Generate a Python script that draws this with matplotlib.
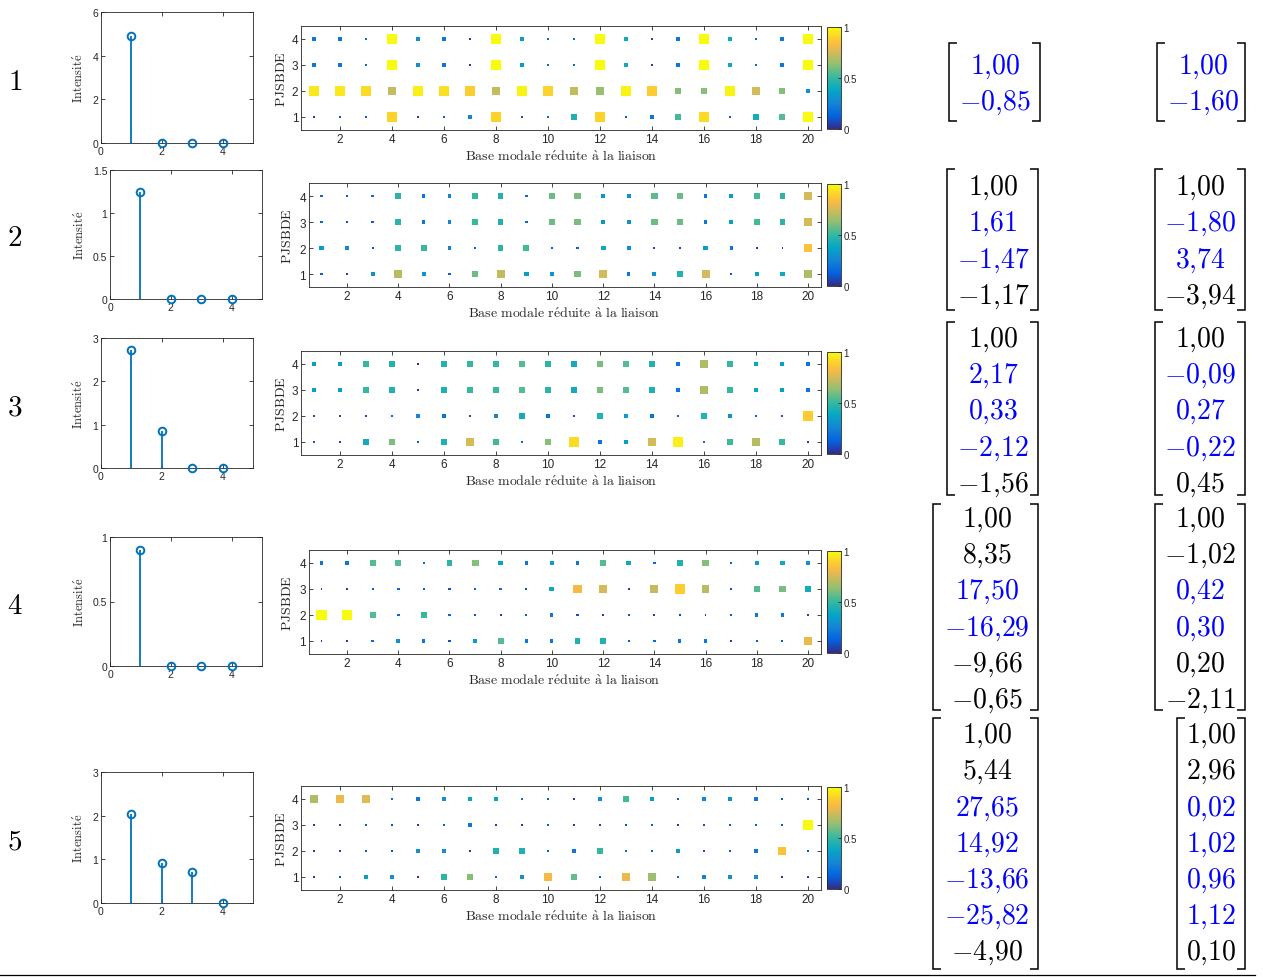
import numpy as np
import matplotlib
matplotlib.use('Agg')
import matplotlib.pyplot as plt
from matplotlib.colors import LinearSegmentedColormap

plt.rcParams['mathtext.fontset'] = 'cm'
plt.rcParams['font.family'] = ['Liberation Sans', 'DejaVu Sans']

W, H, DPI = 1263, 978, 100

# ---------------- data ----------------
row_labels = ['1', '2', '3', '4', '5']
stem_x = [1, 2, 3, 4]
stem_1 = [4.88, 0, 0, 0]
stem_2 = [1.24, 0, 0, 0]
stem_3 = [2.72, 0.85, 0, 0]
stem_4 = [0.90, 0, 0, 0]
stem_5 = [2.04, 0.92, 0.70, 0]
stem_yticks_1 = [0, 2, 4, 6]
stem_yticks_2 = [0, 0.5, 1, 1.5]
stem_yticks_3 = [0, 1, 2, 3]
stem_yticks_4 = [0, 0.5, 1]
stem_yticks_5 = [0, 1, 2, 3]

modes = list(range(1, 21))
ddl = [1, 2, 3, 4]
# rows: PJSBDE = 1, 2, 3, 4 ; columns: modes 1..20
mac_1 = [
    [0.05, 0.08, 0.12, 0.90, 0.05, 0.10, 0.25, 0.90, 0.08, 0.15, 0.45, 0.90, 0.10, 0.20, 0.52, 0.92, 0.10, 0.42, 0.55, 1.00],
    [0.95, 0.95, 0.92, 0.72, 0.97, 0.93, 0.88, 0.72, 0.98, 0.90, 0.72, 0.65, 0.98, 0.88, 0.62, 0.62, 0.98, 0.75, 0.62, 0.30],
    [0.20, 0.20, 0.15, 1.00, 0.30, 0.20, 0.05, 1.00, 0.35, 0.15, 0.15, 1.00, 0.40, 0.05, 0.20, 1.00, 0.40, 0.15, 0.20, 1.00],
    [0.20, 0.20, 0.15, 1.00, 0.30, 0.20, 0.05, 1.00, 0.35, 0.15, 0.15, 1.00, 0.40, 0.05, 0.20, 1.00, 0.40, 0.15, 0.20, 1.00],
]
mac_2 = [
    [0.12, 0.05, 0.30, 0.70, 0.30, 0.12, 0.58, 0.72, 0.35, 0.30, 0.60, 0.75, 0.20, 0.30, 0.45, 0.75, 0.10, 0.35, 0.40, 0.68],
    [0.35, 0.25, 0.10, 0.48, 0.50, 0.25, 0.12, 0.48, 0.52, 0.12, 0.12, 0.40, 0.30, 0.05, 0.08, 0.35, 0.20, 0.05, 0.05, 0.85],
    [0.15, 0.08, 0.12, 0.48, 0.20, 0.25, 0.50, 0.45, 0.15, 0.58, 0.60, 0.32, 0.30, 0.58, 0.58, 0.20, 0.35, 0.52, 0.48, 0.75],
    [0.15, 0.10, 0.15, 0.48, 0.20, 0.25, 0.50, 0.45, 0.15, 0.58, 0.60, 0.32, 0.30, 0.56, 0.58, 0.20, 0.35, 0.52, 0.48, 0.75],
]
mac_3 = [
    [0.10, 0.05, 0.42, 0.60, 0.12, 0.45, 0.75, 0.52, 0.15, 0.62, 0.92, 0.20, 0.35, 0.75, 0.97, 0.15, 0.52, 0.70, 0.50, 0.05],
    [0.05, 0.05, 0.05, 0.15, 0.25, 0.20, 0.05, 0.25, 0.42, 0.20, 0.08, 0.45, 0.35, 0.20, 0.15, 0.45, 0.30, 0.15, 0.10, 0.88],
    [0.35, 0.35, 0.50, 0.45, 0.03, 0.45, 0.50, 0.50, 0.55, 0.48, 0.42, 0.60, 0.55, 0.45, 0.20, 0.68, 0.50, 0.38, 0.35, 0.20],
    [0.35, 0.35, 0.50, 0.45, 0.03, 0.45, 0.50, 0.50, 0.55, 0.48, 0.42, 0.60, 0.55, 0.45, 0.20, 0.68, 0.50, 0.38, 0.35, 0.20],
]
mac_4 = [
    [0.05, 0.05, 0.15, 0.30, 0.20, 0.10, 0.35, 0.55, 0.20, 0.20, 0.45, 0.45, 0.10, 0.15, 0.20, 0.20, 0.05, 0.10, 0.10, 0.80],
    [1.00, 1.00, 0.55, 0.15, 0.50, 0.15, 0.08, 0.05, 0.10, 0.20, 0.10, 0.05, 0.08, 0.05, 0.08, 0.05, 0.10, 0.20, 0.20, 0.05],
    [0.05, 0.05, 0.10, 0.15, 0.12, 0.10, 0.12, 0.15, 0.08, 0.40, 0.82, 0.75, 0.05, 0.72, 0.88, 0.70, 0.08, 0.55, 0.60, 0.42],
    [0.20, 0.20, 0.55, 0.55, 0.15, 0.48, 0.62, 0.38, 0.20, 0.35, 0.20, 0.55, 0.40, 0.15, 0.45, 0.62, 0.12, 0.35, 0.40, 0.30],
]
mac_5 = [
    [0.05, 0.08, 0.35, 0.30, 0.03, 0.48, 0.62, 0.15, 0.30, 0.82, 0.57, 0.10, 0.80, 0.65, 0.15, 0.25, 0.30, 0.30, 0.03, 0.05],
    [0.05, 0.05, 0.10, 0.08, 0.30, 0.30, 0.03, 0.45, 0.45, 0.10, 0.20, 0.50, 0.15, 0.10, 0.35, 0.10, 0.10, 0.20, 0.85, 0.10],
    [0.05, 0.05, 0.10, 0.10, 0.05, 0.10, 0.20, 0.05, 0.05, 0.10, 0.05, 0.05, 0.08, 0.10, 0.05, 0.10, 0.10, 0.10, 0.10, 1.00],
    [0.68, 0.80, 0.78, 0.15, 0.20, 0.30, 0.38, 0.38, 0.15, 0.10, 0.05, 0.30, 0.52, 0.35, 0.10, 0.25, 0.30, 0.20, 0.10, 0.10],
]

vec_left_1 = [1.00, -0.85]
vec_left_2 = [1.00, 1.61, -1.47, -1.17]
vec_left_3 = [1.00, 2.17, 0.33, -2.12, -1.56]
vec_left_4 = [1.00, 8.35, 17.50, -16.29, -9.66, -0.65]
vec_left_5 = [1.00, 5.44, 27.65, 14.92, -13.66, -25.82, -4.90]
hl_left_1 = [1, 1]
hl_left_2 = [0, 1, 1, 0]
hl_left_3 = [0, 1, 1, 1, 0]
hl_left_4 = [0, 0, 1, 1, 0, 0]
hl_left_5 = [0, 0, 1, 1, 1, 1, 0]

vec_right_1 = [1.00, -1.60]
vec_right_2 = [1.00, -1.80, 3.74, -3.94]
vec_right_3 = [1.00, -0.09, 0.27, -0.22, 0.45]
vec_right_4 = [1.00, -1.02, 0.42, 0.30, 0.20, -2.11]
vec_right_5 = [1.00, 2.96, 0.02, 1.02, 0.96, 1.12, 0.10]
hl_right_1 = [1, 1]
hl_right_2 = [0, 1, 1, 0]
hl_right_3 = [0, 1, 1, 1, 0]
hl_right_4 = [0, 0, 1, 1, 0, 0]
hl_right_5 = [0, 0, 1, 1, 1, 1, 0]

# ---------------- style ----------------
parula_anchors = [
    (0 / 63, (0.2081, 0.1663, 0.5292)),
    (8 / 63, (0.0117, 0.3875, 0.8820)),
    (16 / 63, (0.0793, 0.5200, 0.8312)),
    (24 / 63, (0.0228, 0.6535, 0.7768)),
    (32 / 63, (0.2178, 0.7250, 0.6193)),
    (40 / 63, (0.5709, 0.7485, 0.4494)),
    (48 / 63, (0.8507, 0.7299, 0.3360)),
    (52 / 63, (0.9739, 0.7314, 0.2666)),
    (56 / 63, (0.9880, 0.8066, 0.1794)),
    (63 / 63, (0.9763, 0.9831, 0.0538)),
]
parula = LinearSegmentedColormap.from_list('parula', parula_anchors)
STEM_C = (0.0, 0.447, 0.741)
AX_C = (0.15, 0.15, 0.15)
BLUE = (0, 0, 1)

fig = plt.figure(figsize=(W / DPI, H / DPI), dpi=DPI)

ov = fig.add_axes([0, 0, 1, 1])
ov.set_xlim(0, W)
ov.set_ylim(H, 0)
ov.axis('off')


def px_axes(l, t, r, b):
    return fig.add_axes([l / W, 1 - b / H, (r - l) / W, (b - t) / H])


def style_axes(ax, size):
    for s in ax.spines.values():
        s.set_color(AX_C)
        s.set_linewidth(0.6)
    ax.tick_params(direction='in', top=True, right=True, length=3, width=0.6,
                   colors=AX_C, labelsize=size, pad=2)


def fmt(v):
    s = ('%.2f' % abs(v)).replace('.', '{,}')
    return r'$-' + s + '$' if v < 0 else r'$' + s + '$'


stems = [stem_1, stem_2, stem_3, stem_4, stem_5]
stem_ticks = [stem_yticks_1, stem_yticks_2, stem_yticks_3, stem_yticks_4, stem_yticks_5]
macs = [mac_1, mac_2, mac_3, mac_4, mac_5]
vl = [vec_left_1, vec_left_2, vec_left_3, vec_left_4, vec_left_5]
vr = [vec_right_1, vec_right_2, vec_right_3, vec_right_4, vec_right_5]
hl = [hl_left_1, hl_left_2, hl_left_3, hl_left_4, hl_left_5]
hr = [hl_right_1, hl_right_2, hl_right_3, hl_right_4, hl_right_5]

# layout (pixels)
label_y = [82, 238, 407, 606, 842]
stem_box = [(101, 13, 253, 144), (110, 171, 262, 300), (101, 339, 253, 469),
            (110, 538, 262, 667), (101, 773, 253, 904)]
int_x = [79, 80, 79, 80, 79]
hm_box = [(301, 27, 821, 131), (308.6, 184, 820.8, 288), (301, 352, 821, 456),
          (308.6, 551, 820.8, 655), (301, 787, 821, 891)]
pj_x = [281, 287, 281, 287, 281]
mat_first = [74, 195, 346.7, 526.7, 743]
mat_left_cx = [995, 993, 993, 987, 987]
mat_right_cx = [1203, 1200, 1200, 1200, 1211]
br_left = [(949, 1040), (947, 1038), (947, 1038), (933, 1038), (933, 1038)]
br_right = [(1157, 1245), (1155, 1245), (1155, 1245), (1155, 1245), (1177, 1245)]
br_tb = [(44, 122), (170, 311), (323, 496), (505, 711), (719, 970)]
STEP = 36.2


def bracket(x0, x1, t, b):
    sl = 8
    ov.plot([x0 + sl, x0, x0, x0 + sl], [t, t, b, b], color='k', lw=1.1,
            solid_joinstyle='miter', solid_capstyle='butt')
    ov.plot([x1 - sl, x1, x1, x1 - sl], [t, t, b, b], color='k', lw=1.1,
            solid_joinstyle='miter', solid_capstyle='butt')


for i in range(5):
    # row number
    ov.text(15, label_y[i], '$' + row_labels[i] + '$', fontsize=21,
            ha='center', va='center')

    # stem plot
    l, t, r, b = stem_box[i]
    ax = px_axes(l, t, r, b)
    vals = stems[i]
    ax.vlines(stem_x, 0, vals, color=STEM_C, lw=1.3)
    ax.plot(stem_x, vals, 'o', mfc='none', mec=STEM_C, ms=5.5, mew=1.4,
            clip_on=False, zorder=5)
    ax.set_xlim(0, 5)
    ax.set_ylim(0, stem_ticks[i][-1])
    ax.set_xticks([0, 2, 4])
    ax.set_yticks(stem_ticks[i])
    ax.set_yticklabels(['%g' % v for v in stem_ticks[i]])
    style_axes(ax, 7.5)
    ov.text(int_x[i], (t + b) / 2, r'$\mathrm{Intensit\acute{e}}$', rotation=90,
            fontsize=9, ha='center', va='center', color=AX_C)

    # MAC-like scatter map
    l, t, r, b = hm_box[i]
    ax = px_axes(l, t, r, b)
    M = np.array(macs[i])
    X, Y = np.meshgrid(modes, ddl)
    side_px = 1.3 + 9.0 * M
    s = (side_px * 72.0 / DPI) ** 2
    sc = ax.scatter(X.ravel(), Y.ravel(), s=s.ravel(), c=M.ravel(), cmap=parula,
                    vmin=0, vmax=1, marker='s', linewidths=0)
    ax.set_xlim(0.5, 20.5)
    ax.set_ylim(0.5, 4.5)
    ax.set_xticks(range(2, 21, 2))
    ax.set_yticks(ddl)
    style_axes(ax, 8.5)
    ov.text(pj_x[i], (t + b) / 2, r'$\mathrm{PJSBDE}$', rotation=90, fontsize=10,
            ha='center', va='center', color=AX_C)
    ov.text((l + r) / 2, b + 26,
            r'$\mathrm{Base\ modale\ r\acute{e}duite\ \grave{a}\ la\ liaison}$',
            fontsize=10, ha='center', va='center', color=AX_C)

    cax = px_axes(827, t + 1, 841, b - 1)
    cb = fig.colorbar(sc, cax=cax, ticks=[0, 0.5, 1])
    cb.ax.set_yticklabels(['0', '0.5', '1'])
    cb.ax.tick_params(labelsize=7, direction='in', length=2, width=0.6,
                      colors=AX_C, pad=2)
    cb.outline.set_linewidth(0.6)
    cb.outline.set_edgecolor(AX_C)

    # vectors
    for j, v in enumerate(vl[i]):
        ov.text(mat_left_cx[i], mat_first[i] + j * STEP, fmt(v), fontsize=20,
                ha='center', va='baseline', color=BLUE if hl[i][j] else 'k')
    for j, v in enumerate(vr[i]):
        ov.text(mat_right_cx[i], mat_first[i] + j * STEP, fmt(v), fontsize=20,
                ha='center', va='baseline', color=BLUE if hr[i][j] else 'k')
    bracket(br_left[i][0], br_left[i][1], br_tb[i][0], br_tb[i][1])
    bracket(br_right[i][0], br_right[i][1], br_tb[i][0], br_tb[i][1])

ov.plot([0, 1255], [976, 976], color='k', lw=0.9)

fig.savefig('out.png', dpi=DPI)
